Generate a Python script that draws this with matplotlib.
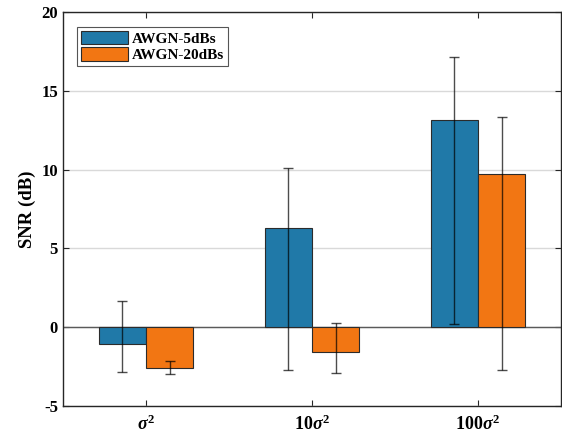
import matplotlib.pyplot as plt
import numpy as np

plt.rcParams['font.family'] = 'Liberation Serif'
plt.rcParams['font.weight'] = 'bold'
plt.rcParams['axes.unicode_minus'] = False
plt.rcParams['mathtext.fontset'] = 'custom'
plt.rcParams['mathtext.rm'] = 'Liberation Serif:bold'
plt.rcParams['mathtext.it'] = 'Liberation Serif:italic:bold'
plt.rcParams['mathtext.bf'] = 'Liberation Serif:bold'

# data
groups = [r'$\sigma^2$', r'$10\sigma^2$', r'$100\sigma^2$']
labels = ['AWGN-5dBs', 'AWGN-20dBs']
snr_5 = [-1.09, 6.31, 13.15]
snr_20 = [-2.57, -1.55, 9.70]
# error bar ends (low, high)
lo_5 = [-2.86, -2.74, 0.20]
hi_5 = [1.68, 10.10, 17.16]
lo_20 = [-2.99, -2.88, -2.72]
hi_20 = [-2.13, 0.25, 13.36]

blue = '#2079a8'
orange = '#f27613'

fig = plt.figure(figsize=(5.62, 4.43), dpi=100)
ax = fig.add_axes([0.112, 0.0835, 0.886, 0.8895])

x = np.arange(1, len(groups) + 1)
w = 0.285

ax.axhline(0, color='#5a5a5a', lw=1, zorder=1)
ax.bar(x - w / 2, snr_5, w, color=blue, edgecolor='#2b2b2b', lw=0.8, label=labels[0], zorder=2)
ax.bar(x + w / 2, snr_20, w, color=orange, edgecolor='#2b2b2b', lw=0.8, label=labels[1], zorder=2)

for xs, m, lo, hi in [(x - w / 2, snr_5, lo_5, hi_5), (x + w / 2, snr_20, lo_20, hi_20)]:
    m = np.array(m)
    yerr = [m - np.array(lo), np.array(hi) - m]
    ax.errorbar(xs, m, yerr=yerr, fmt='none', ecolor='black', alpha=0.7,
                elinewidth=1, capsize=3.3, capthick=1, zorder=3)

ax.set_xlim(0.5, 3.5)
ax.set_ylim(-5, 20)
ax.set_yticks([-5, 0, 5, 10, 15, 20])
ax.set_xticks(x)
ax.set_xticklabels(groups, fontsize=13)
ax.tick_params(axis='y', labelsize=12)
ax.tick_params(axis='x', pad=6)
ax.tick_params(direction='in', top=True, right=True, length=4, width=0.8, color='#262626')
ax.set_ylabel('SNR (dB)', fontsize=13.5, fontweight='bold', labelpad=4)
ax.yaxis.grid(True, color='#d9d9d9', lw=1)
ax.set_axisbelow(True)
for s in ax.spines.values():
    s.set_color('#262626')
    s.set_linewidth(1)

leg = ax.legend(loc='upper left', bbox_to_anchor=(0.028, 0.962), fontsize=11,
                fancybox=False, framealpha=1, edgecolor='#555555',
                handlelength=3.1, handleheight=1.0, handletextpad=0.25,
                borderpad=0.25, labelspacing=0.1, borderaxespad=0)
leg.get_frame().set_linewidth(0.8)

plt.savefig('out.png', dpi=100)
